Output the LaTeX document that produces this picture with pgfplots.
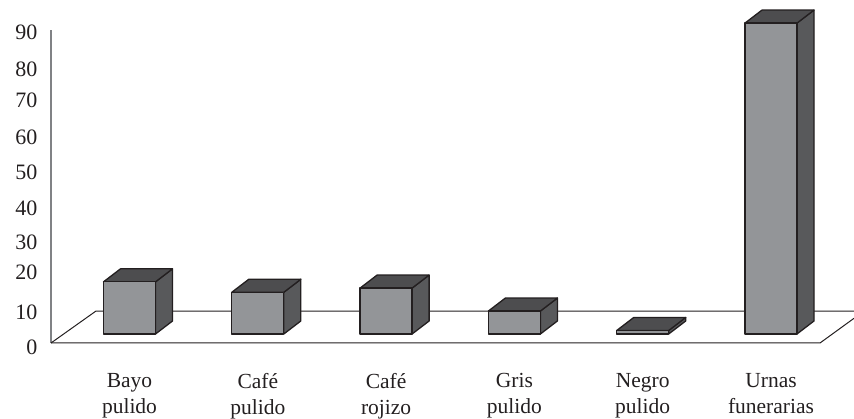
\documentclass[border=0pt]{standalone}
\usepackage{fontspec}
\setmainfont{Liberation Serif}
\usepackage{pgfplots}
\pgfplotsset{compat=1.18}
\definecolor{frontface}{HTML}{939598}
\definecolor{sideface}{HTML}{58595B}
\definecolor{topface}{HTML}{4D4D4F}
\definecolor{edge}{HTML}{231F20}
\definecolor{yline}{HTML}{808285}
% half width of a column, depth offsets of the 3D effect, height of the column base above the floor's front edge
\newcommand{\hw}{0.2027}
\newcommand{\dx}{0.1325}
\newcommand{\dy}{3.74}
\newcommand{\base}{2.59}
\newcommand{\cuboid}[2]{%
  \addplot[draw=edge, line width=1.3pt, line join=round, fill=sideface] coordinates
    {({#1+\hw},{\base}) ({#1+\hw+\dx},{\base+\dy}) ({#1+\hw+\dx},{\base+#2+\dy}) ({#1+\hw},{\base+#2})} --cycle;
  \addplot[draw=edge, line width=1.3pt, line join=round, fill=topface] coordinates
    {({#1-\hw},{\base+#2}) ({#1+\hw},{\base+#2}) ({#1+\hw+\dx},{\base+#2+\dy}) ({#1-\hw+\dx},{\base+#2+\dy})} --cycle;
  \addplot[draw=edge, line width=1.3pt, line join=round, fill=frontface] coordinates
    {({#1-\hw},{\base}) ({#1+\hw},{\base}) ({#1+\hw},{\base+#2}) ({#1-\hw},{\base+#2})} --cycle;
}
\begin{document}
\begin{tikzpicture}
\path[use as bounding box] (0,0) rectangle (854pt,419pt);
\begin{axis}[
  at={(51pt,76pt)}, anchor=south west,
  scale only axis, width=769pt, height=313pt,
  xmin=-0.612, xmax=5.382, ymin=0, ymax=90,
  clip=false,
  axis y line=left, axis x line=bottom,
  x axis line style={draw=none,-},
  y axis line style={-, draw=yline, line width=1.3pt},
  major tick length=0pt,
  xtick={0,1,2,3,4,5},
  xticklabels={{Bayo\\pulido},{Café\\pulido},{Café\\rojizo},{Gris\\pulido},{Negro\\pulido},{Urnas\\funerarias}},
  xticklabel style={align=center, font=\fontsize{21.5}{26}\selectfont, text=edge, anchor=north, yshift=-27pt},
  ytick={8.9,20.4,29,38.8,49.2,59.2,69.9,78.8,89.4},
  yticklabels={10,20,30,40,50,60,70,80,90},
  yticklabel style={font=\fontsize{22}{24}\selectfont, text=edge, anchor=east, xshift=-10pt},
  extra y ticks={0},
  extra y tick labels={0},
  extra y tick style={yticklabel style={yshift=-4pt}},
]
  % floor of the chart
  \addplot[edge, line width=1pt] coordinates {(-0.612,0) (5.382,0) (5.647,7.1)};
  \addplot[edge, line width=1pt] coordinates {(-0.612,0) (-0.261,9.2) (5.647,9.2)};
  % columns: position, value
  \cuboid{0}{15}
  \cuboid{1}{12}
  \cuboid{2}{13.2}
  \cuboid{3}{6.6}
  \cuboid{4}{1}
  \cuboid{5}{89.4}
\end{axis}
\end{tikzpicture}
\end{document}
